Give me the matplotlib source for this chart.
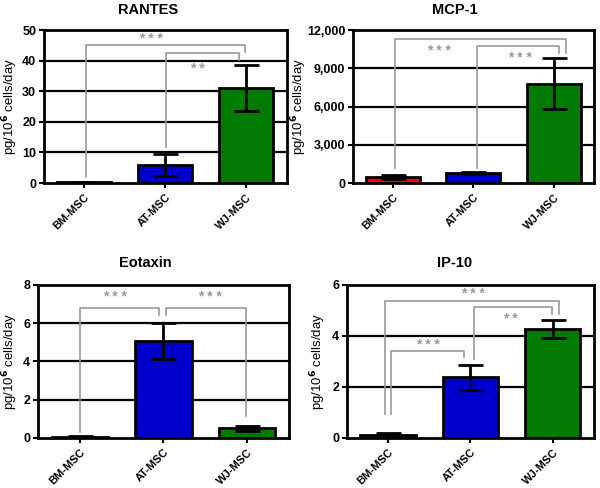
import numpy as np
import matplotlib
matplotlib.use("Agg")
import matplotlib.pyplot as plt
from matplotlib.ticker import FuncFormatter

plt.rcParams['font.family'] = ['Liberation Sans', 'DejaVu Sans']
plt.rcParams['font.weight'] = 'bold'

groups = ["BM-MSC", "AT-MSC", "WJ-MSC"]
bar_colors = ["#ff0000", "#0000cc", "#007a00"]

# chemokine means and SEM (pg/10^6 cells/day)
rantes = [0.2, 5.8, 31.0]
rantes_err = [0.1, 3.6, 7.6]
mcp1 = [480, 800, 7800]
mcp1_err = [130, 100, 1980]
eotaxin = [0.06, 5.05, 0.5]
eotaxin_err = [0.03, 0.95, 0.11]
ip10 = [0.1, 2.37, 4.27]
ip10_err = [0.1, 0.5, 0.35]

# brackets: (x_left, x_right, top, left_bottom, right_bottom)
rantes_br = [(0.02, 1.99, 45.1, 2.0, 42.8), (1.01, 1.91, 42.5, 11.8, 40.2)]
rantes_stars = [(0.82, 47.0, "* * *"), (1.40, 37.2, "* *")]
mcp1_br = [(0.03, 2.15, 11260, 1180, 10220), (1.04, 2.06, 10760, 1180, 10220)]
mcp1_stars = [(0.57, 10350, "* * *"), (1.58, 9780, "* * *")]
eotaxin_br = [(0.0, 0.95, 6.8, 0.3, 6.42), (1.03, 1.99, 6.8, 6.42, 1.16)]
eotaxin_stars = [(0.42, 7.35, "* * *"), (1.55, 7.35, "* * *")]
ip10_br = [(-0.035, 2.08, 5.38, 0.94, 4.84), (1.04, 1.99, 5.12, 3.1, 4.84),
           (0.04, 0.92, 3.4, 0.94, 3.16)]
ip10_stars = [(1.03, 5.62, "* * *"), (1.49, 4.67, "* *"), (0.48, 3.65, "* * *")]

# title, values, errors, ymax, step, brackets, stars, axes rect, comma, ylabel x, title x, title baseline
panels = [
    ("RANTES", rantes, rantes_err, 50, 10, rantes_br, rantes_stars,
     [0.073, 0.625, 0.405, 0.3135], False, -0.099, 148, 14),
    ("MCP-1", mcp1, mcp1_err, 12000, 3000, mcp1_br, mcp1_stars,
     [0.588, 0.625, 0.402, 0.3135], True, -0.183, 455, 14),
    ("Eotaxin", eotaxin, eotaxin_err, 8, 2, eotaxin_br, eotaxin_stars,
     [0.063, 0.1025, 0.419, 0.314], False, -0.07, 145, 267),
    ("IP-10", ip10, ip10_err, 6, 2, ip10_br, ip10_stars,
     [0.578, 0.1025, 0.412, 0.314], False, -0.076, 455, 267),
]

W, H = 600, 488
fig = plt.figure(figsize=(6, 4.88), dpi=100)
grey = "#999999"

for title, vals, errs, ymax, step, brs, stars, pos, comma, ylx, tx, ty in panels:
    ax = fig.add_axes(pos)
    x = np.arange(len(groups))
    ax.set_xlim(-0.5, 2.5)
    ax.set_ylim(0, ymax)
    ticks = np.arange(0, ymax + step / 2, step)
    ax.set_yticks(ticks)
    for t in ticks[1:-1]:
        ax.axhline(t, color="black", lw=1.6, zorder=1)
    ax.bar(x, vals, width=0.67, color=bar_colors, edgecolor="black", lw=2, zorder=3)
    ax.errorbar(x, vals, yerr=errs, fmt="none", ecolor="black", elinewidth=2,
                capsize=9, capthick=2, zorder=4)
    for x1, x2, top, lb, rb in brs:
        ax.plot([x1, x1, x2, x2], [lb, top, top, rb], color=grey, lw=1.2, zorder=2)
    for sx, sy, s in stars:
        ax.text(sx, sy, s, color=grey, ha="center", va="center", fontsize=10, zorder=5)
    for sp in ax.spines.values():
        sp.set_linewidth(2)
    ax.set_xticks(x)
    ax.set_xticklabels(groups, rotation=45, ha="right", rotation_mode="anchor")
    ax.tick_params(axis="both", width=1.5, length=3.5, labelsize=9, pad=2)
    ax.tick_params(axis="x", labelsize=8, pad=3)
    if comma:
        ax.yaxis.set_major_formatter(FuncFormatter(lambda v, p: f"{int(v):,}"))
    ax.set_ylabel("pg/10$^\\mathbf{6}$ cells/day", fontsize=9.5)
    ax.yaxis.set_label_coords(ylx, 0.5)
    fig.text(tx / W, 1 - ty / H, title, fontsize=10.5, fontweight="bold",
             ha="center", va="baseline")

fig.savefig("out.png", dpi=100)
